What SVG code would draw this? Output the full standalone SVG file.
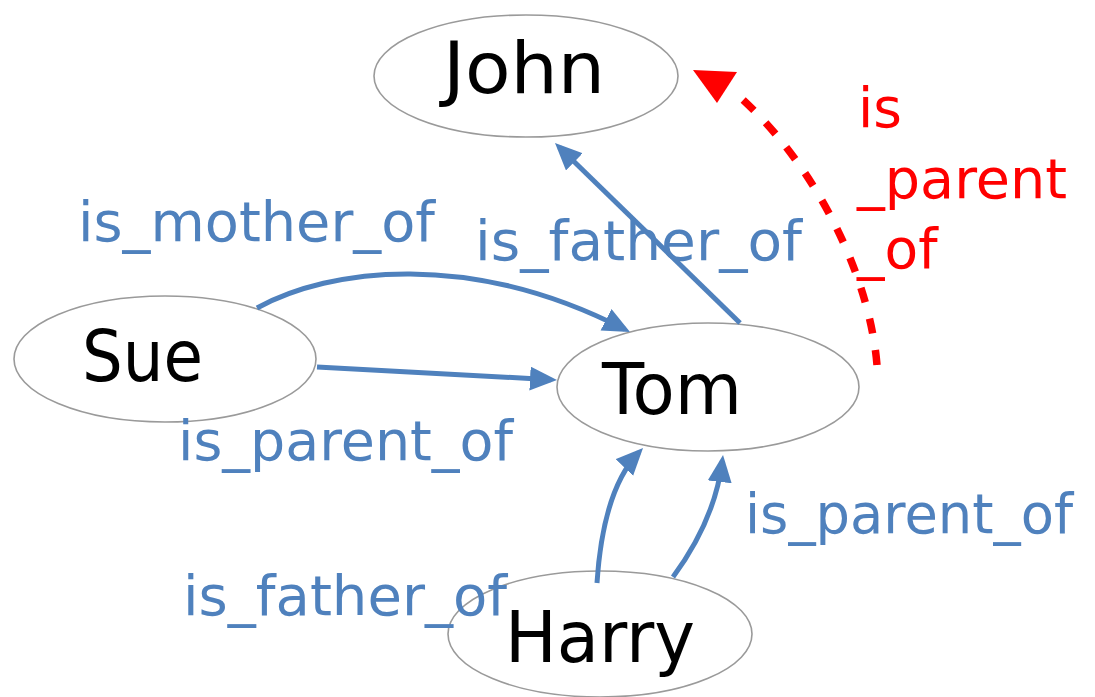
<svg xmlns="http://www.w3.org/2000/svg" width="1095" height="697" viewBox="0 0 1095 697">
<style>
.node{fill:#fff;stroke:#9a9a9a;stroke-width:1.6}
.nl{font-family:"DejaVu Sans",sans-serif;font-size:72px;fill:#000}
.el{font-family:"DejaVu Sans",sans-serif;font-size:55px;fill:#4F81BD}
.rl{font-family:"DejaVu Sans",sans-serif;font-size:55px;fill:#FF0000}
.edge{fill:none;stroke:#4F81BD;stroke-width:5}
.red{fill:none;stroke:#FF0000;stroke-width:7.5;stroke-dasharray:15 17}
</style>
<defs>
<marker id="ah" markerUnits="userSpaceOnUse" markerWidth="30" markerHeight="26" refX="21" refY="12" orient="auto">
<path d="M0,0 L27,12 L0,24 z" fill="#4F81BD"/>
</marker>
</defs>
<g id="node-john"><ellipse class="node" cx="526" cy="76" rx="152" ry="61"/><text class="nl" x="443" y="93" textLength="162" lengthAdjust="spacingAndGlyphs">John</text></g>
<g id="node-sue"><ellipse class="node" cx="165" cy="359" rx="151" ry="63"/><text class="nl" x="82" y="381" textLength="121" lengthAdjust="spacingAndGlyphs">Sue</text></g>
<g id="node-tom"><ellipse class="node" cx="708" cy="387" rx="151" ry="64"/><text class="nl" x="602" y="414" textLength="140" lengthAdjust="spacingAndGlyphs">Tom</text></g>
<g id="node-harry"><ellipse class="node" cx="600" cy="634" rx="152" ry="63"/><text class="nl" x="505" y="662" textLength="190" lengthAdjust="spacingAndGlyphs">Harry</text></g>
<g id="connectors">
<text class="el" x="78" y="241" textLength="357" lengthAdjust="spacingAndGlyphs">is_mother_of</text>
<text class="el" x="475" y="260" textLength="327" lengthAdjust="spacingAndGlyphs">is_father_of</text>
<text class="el" x="178" y="460" textLength="335" lengthAdjust="spacingAndGlyphs">is_parent_of</text>
<text class="el" x="745" y="533" textLength="328" lengthAdjust="spacingAndGlyphs">is_parent_of</text>
<text class="el" x="183" y="615" textLength="324" lengthAdjust="spacingAndGlyphs">is_father_of</text>
<text class="rl" x="858" y="127">is</text>
<text class="rl" x="857" y="198" textLength="210" lengthAdjust="spacingAndGlyphs">_parent</text>
<text class="rl" x="857" y="268">_of</text>
<path class="edge" d="M257,308 C330,268 470,250 624.7,329.3" marker-end="url(#ah)"/>
<path class="edge" d="M317,367 L551,379.7" marker-end="url(#ah)"/>
<path class="edge" d="M740,323 L559.3,147.2" marker-end="url(#ah)"/>
<path class="edge" d="M597,583 Q603,490 638.9,452.3" marker-end="url(#ah)"/>
<path class="edge" d="M673,577 Q715,520 722.3,461" marker-end="url(#ah)"/>
<path class="red" d="M877,365 C870,280 820,170 740,97"/>
<polygon points="693,70 737,72 717,103" fill="#FF0000"/>
</g>
</svg>
